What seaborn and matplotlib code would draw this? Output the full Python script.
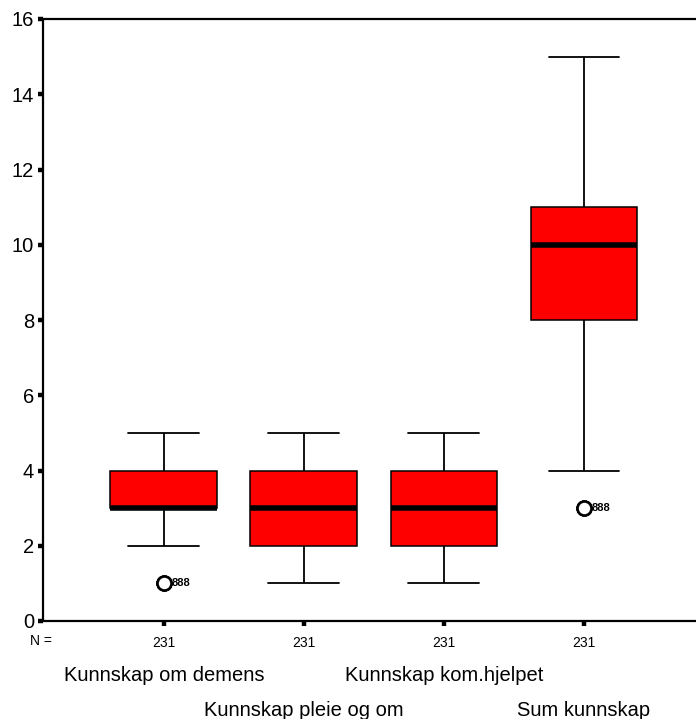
import numpy as np
import pandas as pd
import matplotlib
matplotlib.use("Agg")
import matplotlib.pyplot as plt
import seaborn as sns

# Score scales and how many respondents landed on each score
categories = ["Kunnskap om demens", "Kunnskap pleie og om",
              "Kunnskap kom.hjelpet", "Sum kunnskap"]
demens_scores = [1, 2, 3, 4, 5]
demens_counts = [3, 20, 120, 70, 18]
pleie_scores = [1, 2, 3, 4, 5]
pleie_counts = [20, 50, 80, 60, 21]
komhj_scores = [1, 2, 3, 4, 5]
komhj_counts = [25, 45, 85, 55, 21]
sum_scores = [3, 4, 5, 6, 7, 8, 9, 10, 11, 12, 13, 14, 15]
sum_counts = [3, 4, 6, 12, 20, 30, 30, 40, 35, 22, 15, 9, 5]
n_labels = ["231", "231", "231", "231"]
yticks = [0, 2, 4, 6, 8, 10, 12, 14, 16]

frames = []
for cat, sc, ct in zip(categories,
                       [demens_scores, pleie_scores, komhj_scores, sum_scores],
                       [demens_counts, pleie_counts, komhj_counts, sum_counts]):
    frames.append(pd.DataFrame({"var": cat, "score": np.repeat(sc, ct)}))
df = pd.concat(frames, ignore_index=True)

sns.set_style("white")
plt.rcParams["font.family"] = ["Liberation Sans", "DejaVu Sans"]
plt.rcParams.update({"text.color": "black", "xtick.color": "black",
                     "ytick.color": "black", "axes.labelcolor": "black"})

W, H = 696, 719
fig = plt.figure(figsize=(W / 100, H / 100), dpi=100)
ax = fig.add_axes([43 / W, (H - 621) / H, (W - 43) / W, (621 - 19) / H])

sns.boxplot(data=df, x="var", y="score", order=categories, ax=ax,
            color="#ff0000", saturation=1, width=0.764, whis=1.5,
            linecolor="black", linewidth=1.1,
            boxprops=dict(facecolor="#ff0000", edgecolor="black", linewidth=1.1),
            medianprops=dict(color="black", linewidth=4),
            whiskerprops=dict(color="black", linewidth=1.3),
            capprops=dict(color="black", linewidth=1.3),
            flierprops=dict(marker="o", markersize=10, markerfacecolor="white",
                            markeredgecolor="black", markeredgewidth=1.8),
            capwidths=0.507)

# Case-number labels beside the outliers
for xi, grp in [(0, demens_scores), (3, sum_scores)]:
    ax.text(xi + 0.055, grp[0], "888", fontsize=8, fontweight="bold",
            ha="left", va="center", color="black")

ax.set_xlim(-0.864, 3.8)
ax.set_ylim(0, 16)
ax.set_yticks(yticks)
ax.set_yticklabels([str(t) for t in yticks], fontsize=14.5)
ax.set_xticks(range(len(categories)))
ax.set_xticklabels(n_labels, fontsize=10)
ax.set_xlabel("")
ax.set_ylabel("")

for side in ["left", "bottom", "top"]:
    ax.spines[side].set_visible(True)
    ax.spines[side].set_linewidth(1.6)
    ax.spines[side].set_color("black")
ax.spines["right"].set_visible(False)

ax.tick_params(axis="y", direction="out", length=3.5, width=3.2, pad=3,
               left=True, colors="black")
ax.tick_params(axis="x", direction="out", length=3.5, width=3.2, pad=7,
               bottom=True, colors="black")

ax.text(-0.88, -0.53, "N =", fontsize=10, ha="center", va="center",
        transform=ax.transData, clip_on=False)

# Staggered category names under the axis
for i, cat in enumerate(categories):
    yy = -1.44 if i % 2 == 0 else -2.37
    ax.text(i, yy, cat, fontsize=14.5, ha="center", va="center", clip_on=False)

fig.savefig("out.png", dpi=100)
